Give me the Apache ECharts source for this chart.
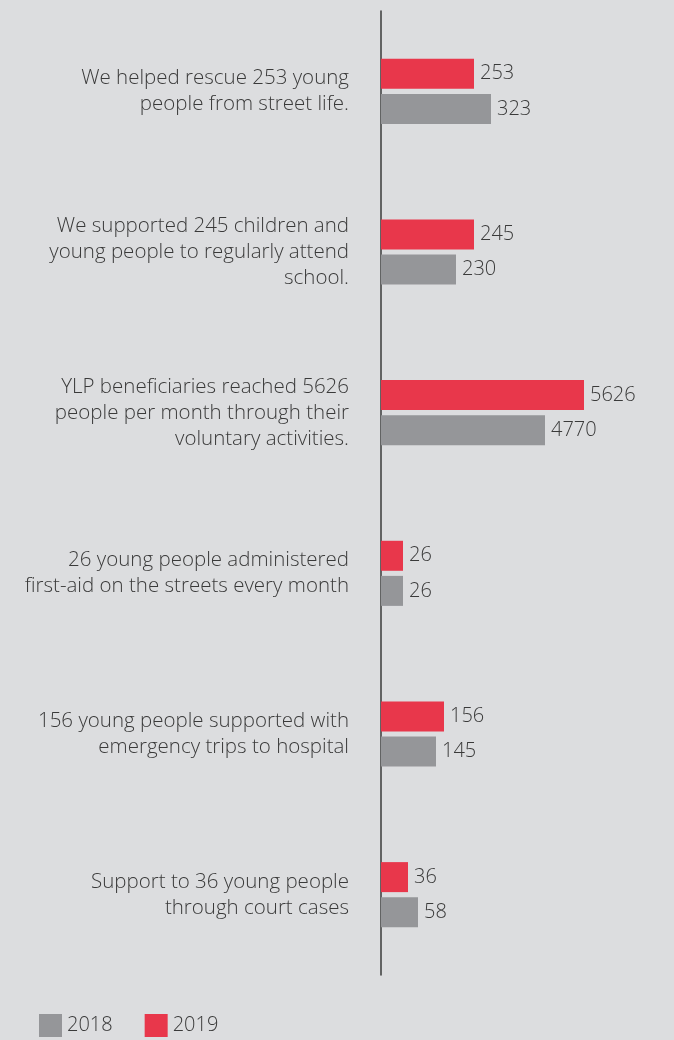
<!DOCTYPE html>
<html>
<head>
<meta charset="utf-8">
<script src="https://cdn.jsdelivr.net/npm/echarts@6/dist/echarts.min.js"></script>
<style>
  html, body { margin: 0; padding: 0; background: #dcdddf; }
  #chart { width: 674px; height: 1040px; }
</style>
</head>
<body>
<div id="chart"></div>
<script>
// row captions, top to bottom
const categories = [
  'We helped rescue 253 young\npeople from street life.',
  'We supported 245 children and\nyoung people to regularly attend\nschool.',
  'YLP beneficiaries reached 5626\npeople per month through their\nvoluntary activities.',
  '26 young people administered\nfirst-aid on the streets every month',
  '156 young people supported with\nemergency trips to hospital',
  'Support to 36 young people\nthrough court cases'
];

// reported numbers (shown as labels)
const values2019 = [253, 245, 5626, 26, 156, 36];
const values2018 = [323, 230, 4770, 26, 145, 58];

// bar lengths as drawn in the infographic (not proportional to the numbers)
const shown2019 = [93, 93, 203, 22, 63, 27];
const shown2018 = [110, 75, 164, 22, 55, 37];

const RED = '#e8374b';
const GREY = '#959699';
const TXT = '#3a3a3a';
const FONT = 'Open Sans';

function toItems(shown, vals) {
  return shown.map((s, i) => ({ value: s, shownValue: vals[i] }));
}

const chart = echarts.init(document.getElementById('chart'));

const labelOpt = {
  show: true,
  position: 'right',
  distance: 6,
  color: TXT,
  fontFamily: FONT,
  fontWeight: 300,
  fontSize: 20,
  formatter: p => p.data.shownValue
};

chart.setOption({
  backgroundColor: '#dcdddf',
  animation: false,
  textStyle: { fontFamily: FONT },
  grid: { left: 381, top: 11, bottom: 65, width: 293 },
  legend: {
    data: ['2018', '2019'],
    left: 34,
    top: 1009,
    itemWidth: 23,
    itemHeight: 23,
    itemGap: 32,
    icon: 'rect',
    textStyle: { color: TXT, fontSize: 20, fontWeight: 300, fontFamily: FONT }
  },
  xAxis: {
    type: 'value',
    min: 0,
    max: 293,
    show: false
  },
  yAxis: {
    type: 'category',
    inverse: true,
    data: categories,
    axisLine: { show: true, lineStyle: { color: '#3a3a3a', width: 1.5 } },
    axisTick: { show: false },
    splitLine: { show: false },
    axisLabel: {
      margin: 32,
      color: TXT,
      fontFamily: FONT,
      fontWeight: 300,
      fontSize: 20.5,
      lineHeight: 26,
      align: 'right'
    }
  },
  series: [
    {
      name: '2019',
      type: 'bar',
      barWidth: 30,
      barGap: '17%',
      itemStyle: { color: RED },
      label: labelOpt,
      data: toItems(shown2019, values2019)
    },
    {
      name: '2018',
      type: 'bar',
      barWidth: 30,
      barGap: '17%',
      itemStyle: { color: GREY },
      label: labelOpt,
      data: toItems(shown2018, values2018)
    }
  ]
});
</script>
</body>
</html>
